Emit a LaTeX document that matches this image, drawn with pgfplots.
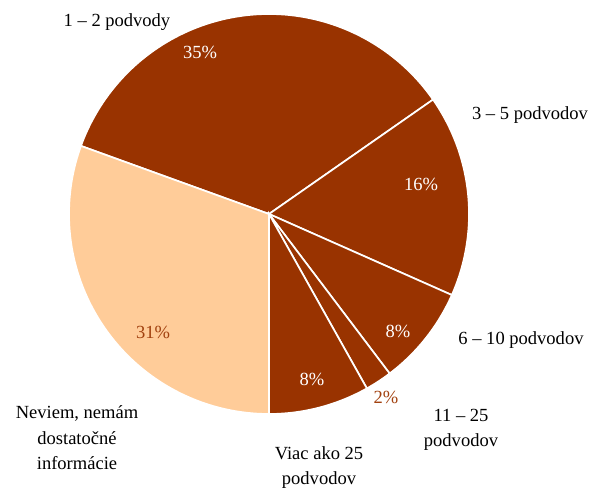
\documentclass[border=0pt]{standalone}
\usepackage{fontspec}
\setmainfont{Liberation Serif}
\usepackage{pgfplots}
\pgfplotsset{compat=1.18}
\definecolor{darkslice}{HTML}{993300}
\definecolor{lightslice}{HTML}{FFCC99}
\definecolor{labbrown}{HTML}{A2410F}
\begin{document}
\begin{tikzpicture}[lab/.style={font=\fontsize{18.6}{25.5}\selectfont, align=center, inner sep=0pt}]
\begin{axis}[x=1bp, y=1bp, xmin=0, xmax=591, ymin=0, ymax=488, hide axis, clip=false,
  slice/.style={draw=white, line width=1.7pt, samples=90}]
% shares (%): 1-2: 35, 3-5: 16, 6-10: 8, 11-25: 2, >25: 8, Neviem: 31
% boundary angles (deg): 160.1, 34.9, -23.9, -52.9, -60.7, -90, -199.9
\addplot[slice, fill=darkslice, domain=34.9:160.1]   ({269+200*cos(x)},{274+200*sin(x)}) -- (axis cs:269,274) -- cycle;
\addplot[slice, fill=darkslice, domain=-23.9:34.9]   ({269+200*cos(x)},{274+200*sin(x)}) -- (axis cs:269,274) -- cycle;
\addplot[slice, fill=darkslice, domain=-52.9:-23.9]  ({269+200*cos(x)},{274+200*sin(x)}) -- (axis cs:269,274) -- cycle;
\addplot[slice, fill=darkslice, domain=-60.7:-52.9]  ({269+200*cos(x)},{274+200*sin(x)}) -- (axis cs:269,274) -- cycle;
\addplot[slice, fill=darkslice, domain=-90:-60.7]    ({269+200*cos(x)},{274+200*sin(x)}) -- (axis cs:269,274) -- cycle;
\addplot[slice, fill=lightslice, domain=-199.9:-90]  ({269+200*cos(x)},{274+200*sin(x)}) -- (axis cs:269,274) -- cycle;

\node[lab, text=white] at (axis cs:200,436) {35\%};
\node[lab, text=white] at (axis cs:421,304) {16\%};
\node[lab, text=white] at (axis cs:398,157) {8\%};
\node[lab, text=labbrown] at (axis cs:386,91) {2\%};
\node[lab, text=white] at (axis cs:312,109) {8\%};
\node[lab, text=labbrown] at (axis cs:153,156) {31\%};

\node[lab] at (axis cs:117,466) {1 – 2 podvody};
\node[lab] at (axis cs:530,373) {3 – 5 podvodov};
\node[lab] at (axis cs:521,148) {6 – 10 podvodov};
\node[lab] at (axis cs:461,58) {11 – 25\\podvodov};
\node[lab] at (axis cs:319,20.5) {Viac ako 25\\podvodov};
\node[lab] at (axis cs:77,50) {Neviem, nemám\\dostatočné\\informácie};
\end{axis}
\pgfresetboundingbox
\path[use as bounding box] (current axis.south west) rectangle (current axis.north east);
\end{tikzpicture}
\end{document}
